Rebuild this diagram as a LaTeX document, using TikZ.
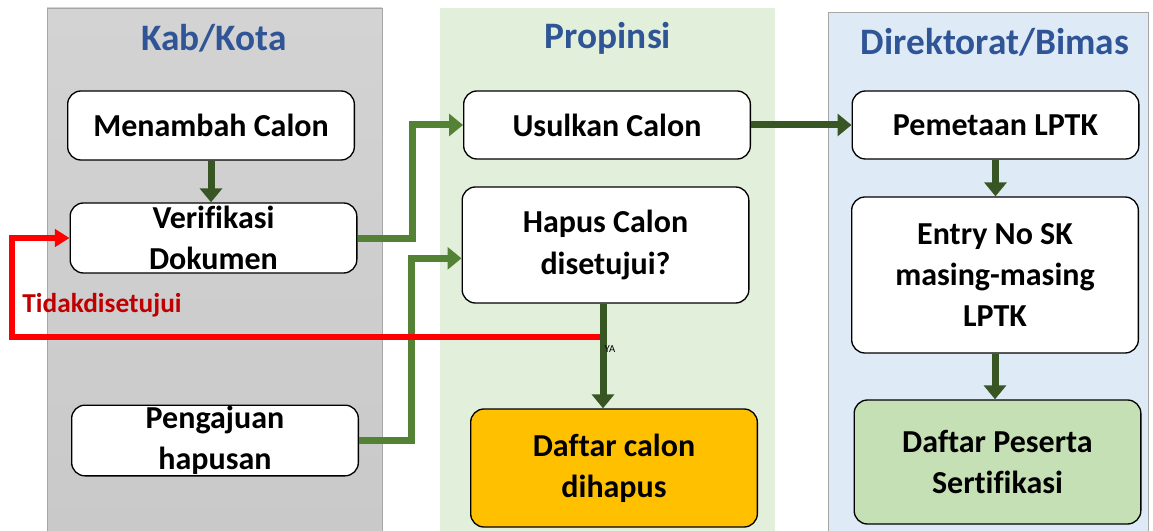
\documentclass[tikz,border=0pt]{standalone}
\usepackage{fontspec}
\setmainfont{Carlito}[Ligatures=CommonOff]
\usetikzlibrary{arrows.meta}
\definecolor{kabgray}{HTML}{C9C9C9}
\definecolor{kabgraytop}{HTML}{D3D3D3}
\definecolor{lanerule}{HTML}{A6A6A6}
\definecolor{propgreen}{HTML}{E2EFDA}
\definecolor{dirblue}{HTML}{DEEBF7}
\definecolor{titleblue}{HTML}{2F5597}
\definecolor{midgreen}{HTML}{548235}
\definecolor{darkgreen}{HTML}{375623}
\definecolor{orangebox}{HTML}{FFC000}
\definecolor{greenbox}{HTML}{C5E0B4}
\definecolor{nored}{HTML}{C00000}
\begin{document}
\begin{tikzpicture}[x=0.75pt,y=-0.75pt,
    box/.style={draw=black, line width=1pt, fill=white, rounded corners=10pt,
        align=center, inner sep=0pt, minimum width=215pt,
        font=\bfseries\fontsize{24}{31}\selectfont},
    lanetitle/.style={text=titleblue, font=\bfseries\fontsize{28}{32}\selectfont},
    flow/.style={line width=5.25pt, draw=midgreen, -{Triangle[length=10.5pt,width=16.5pt]}},
    darkflow/.style={flow, draw=darkgreen},
    noflow/.style={line width=4.5pt, draw=red, -{Triangle[length=11pt,width=13pt]}}]
    \useasboundingbox (0,0) rectangle (1153,531);

    \draw[draw=lanerule, top color=kabgraytop, bottom color=kabgray] (47,8) rectangle (382,534);
    \fill[propgreen] (440,8) rectangle (775,534);
    \draw[draw=lanerule, fill=dirblue] (828,12) rectangle (1148,534);

    \node[lanetitle] (kabtitle) at (214,38) {Kab/Kota};
    \node[lanetitle] (proptitle) at (608,38) {Propinsi};
    \node[lanetitle] (dirtitle) at (995,42) {Direktorat/Bimas};

    \node[box, minimum height=51.75pt] (menambah) at (211,125.5) {Menambah Calon};
    \node[box, minimum height=52.5pt] (verifikasi) at (213.5,238) {Verifikasi\\Dokumen};
    \node[box, minimum height=53pt] (pengajuan) at (215,440.5) {Pengajuan\\hapusan};

    \node[box, minimum height=51pt] (usulkan) at (607,125) {Usulkan Calon};
    \node[box, minimum height=87pt] (hapus) at (605.5,245) {Hapus Calon\\disetujui?};
    \node[box, minimum height=88.5pt, fill=orangebox] (daftarcalon) at (614,468) {Daftar calon\\dihapus};

    \node[box, minimum height=51pt] (pemetaan) at (995.5,125) {Pemetaan LPTK};
    \node[box, minimum height=117pt] (entry) at (995,275) {Entry No SK\\masing-masing\\LPTK};
    \node[box, minimum height=93pt, fill=greenbox] (peserta) at (997.5,462) {Daftar Peserta\\Sertifikasi};

    \draw[darkflow] (menambah.south) -- (menambah.south |- verifikasi.north);
    \draw[flow] (verifikasi.east) -- ++(55,0) |- (usulkan.west);
    \draw[flow] (pengajuan.east) -- ++(52,0) |- ([yshift=-10pt]hapus.west);
    \draw[darkflow] (usulkan.east) -- (pemetaan.west);
    \draw[darkflow] (pemetaan.south) -- (pemetaan.south |- entry.north);
    \draw[darkflow] (entry.south) -- (entry.south |- peserta.north);

    \coordinate (split) at (603,337);
    \coordinate (loop) at (12,337);
    \draw[noflow] (split) -- (loop) |- (verifikasi.west);
    \node[text=nored, font=\bfseries\fontsize{20.5}{24}\selectfont] (tidak) at (102,305) {Tidakdisetujui};

    \draw[darkflow] (hapus.south -| split) -- (split |- daftarcalon.north);
    \node[font=\fontsize{8}{9}\selectfont] (ya) at (610,349) {YA};
\end{tikzpicture}
\end{document}
